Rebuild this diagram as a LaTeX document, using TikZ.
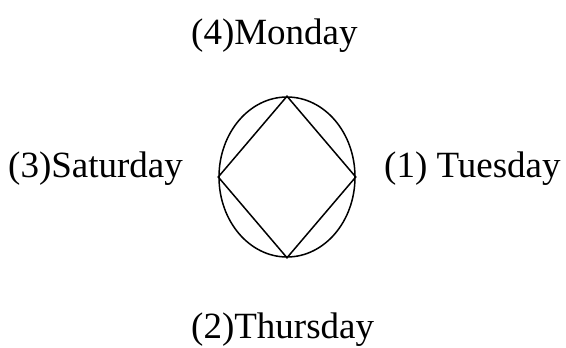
\documentclass[tikz,border=0pt]{standalone}
\usepackage{fontspec}
\setmainfont{Liberation Serif}
\usetikzlibrary{shapes.geometric}

\begin{document}
\begin{tikzpicture}[
  x=1pt,y=-1pt,
  lab/.style={font=\fontsize{37}{44}\selectfont,inner sep=0pt,anchor=base west},
  line/.style={line width=1.5pt}
]
\useasboundingbox (0,0) rectangle (566,348);
\node[ellipse,draw,line,minimum width=136pt,minimum height=160pt,inner sep=0pt] (oval) at (287,177) {};
\draw[line] (oval.north)--(oval.east)--(oval.south)--(oval.west)--cycle;
\node[lab] (mon) at (191,45) {(4)Monday};
\node[lab] (sat) at (8,177) {(3)Saturday};
\node[lab] (tue) at (384,177) {(1) Tuesday};
\node[lab] (thu) at (191,338) {(2)Thursday};
\end{tikzpicture}
\end{document}
